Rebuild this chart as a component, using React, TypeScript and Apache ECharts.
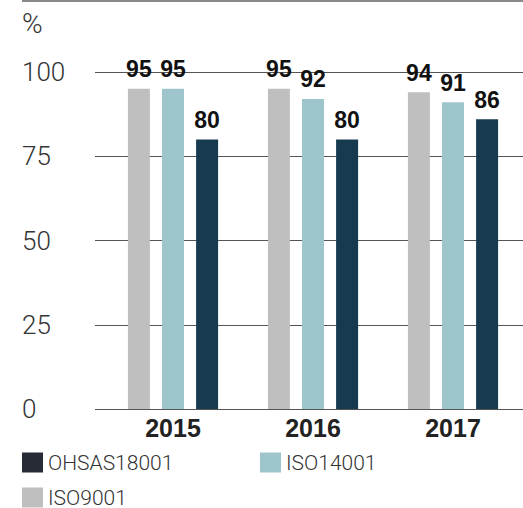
import React, { useEffect, useRef } from "react";
import * as echarts from "echarts";

const categories = ["2015", "2016", "2017"];
const iso9001 = [95, 95, 94];
const iso14001 = [95, 92, 91];
const ohsas18001 = [80, 80, 86];
const yTicks = [0, 25, 50, 75, 100];

const C_GRAY = "#bfbfbf";
const C_TEAL = "#9fc5cc";
const C_DARK = "#173a4f";
const LIGHT_FONT = "Roboto";
const BOLD_FONT = "Liberation Sans";

export default function App() {
  const ref = useRef<HTMLDivElement>(null);
  useEffect(() => {
    if (!ref.current) return;
    const chart = echarts.init(ref.current, null, { renderer: "svg" });
    const label = {
      show: true,
      position: "top",
      distance: 8,
      color: "#111",
      fontFamily: BOLD_FONT,
      fontWeight: "bold",
      fontSize: 23,
    };
    const legendBase = {
      orient: "horizontal",
      itemWidth: 21,
      itemHeight: 20,
      icon: "rect",
      textStyle: { fontFamily: LIGHT_FONT, fontWeight: 300, fontSize: 21, color: "#333" },
      padding: 0,
      selectedMode: false,
    };
    const yMin = yTicks[0];
    const yMax = yTicks[yTicks.length - 1];
    chart.setOption({
      animation: false,
      grid: [
        { left: 103, right: -4, top: 72, bottom: 99, containLabel: false },
        { left: 95, right: 0, top: 72, bottom: 99, containLabel: false },
      ],
      xAxis: [
        {
          type: "category",
          gridIndex: 0,
          data: categories,
          axisLine: { show: false },
          axisTick: { show: false },
          axisLabel: {
            color: "#222",
            fontFamily: BOLD_FONT,
            fontWeight: "bold",
            fontSize: 25,
            margin: 6,
          },
        },
        { type: "value", gridIndex: 1, show: false, min: 0, max: 1 },
      ],
      yAxis: [
        {
          type: "value",
          gridIndex: 0,
          min: yMin,
          max: yMax,
          interval: 25,
          show: false,
          splitLine: { show: false },
        },
        {
          type: "value",
          gridIndex: 1,
          min: yMin,
          max: yMax,
          interval: 25,
          z: 0,
          axisLine: { show: false },
          axisTick: { show: false },
          splitLine: { lineStyle: { color: "#555", width: 1 } },
          axisLabel: {
            align: "left",
            margin: 73,
            color: "#333",
            fontFamily: LIGHT_FONT,
            fontWeight: 300,
            fontSize: 26,
          },
        },
      ],
      legend: [
        { ...legendBase, left: 22, top: 452, data: [{ name: "OHSAS18001", itemStyle: { color: "#262b35" } }] },
        { ...legendBase, left: 260, top: 452, data: ["ISO14001"] },
        { ...legendBase, left: 22, top: 487, data: ["ISO9001"] },
      ],
      graphic: [
        {
          type: "line",
          shape: { x1: 22, y1: 1, x2: 523, y2: 1 },
          style: { stroke: "#8a8a8a", lineWidth: 2 },
        },
        {
          type: "text",
          left: 22,
          top: 9,
          style: { text: "%", fontFamily: LIGHT_FONT, fontWeight: 300, fontSize: 28, fill: "#333" },
        },
      ],
      series: [
        { name: "ISO9001", type: "bar", data: iso9001, barWidth: 22, barGap: "55%", itemStyle: { color: C_GRAY }, label },
        { name: "ISO14001", type: "bar", data: iso14001, barWidth: 22, barGap: "55%", itemStyle: { color: C_TEAL }, label },
        { name: "OHSAS18001", type: "bar", data: ohsas18001, barWidth: 22, barGap: "55%", itemStyle: { color: C_DARK }, label },
      ],
    });
    return () => chart.dispose();
  }, []);
  return <div ref={ref} style={{ width: 523, height: 508, position: "absolute", left: 0, top: 0 }} />;
}
